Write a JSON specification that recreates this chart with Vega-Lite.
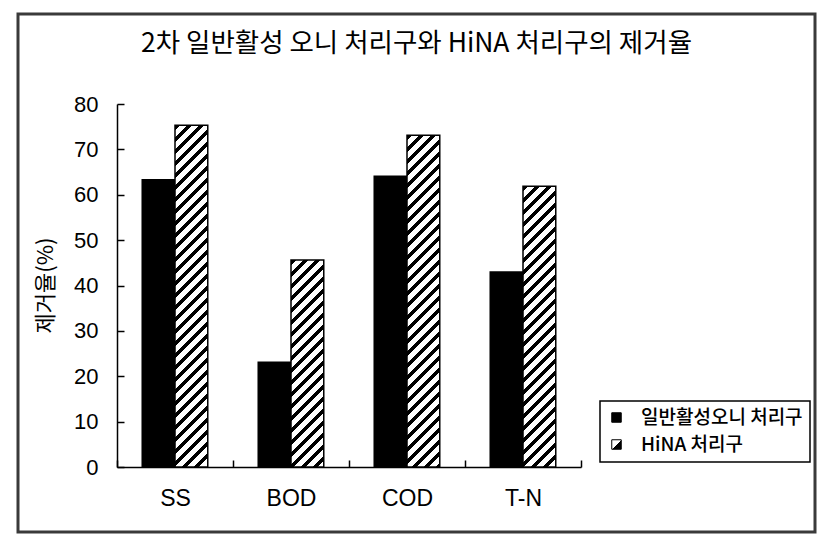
{
  "$schema": "https://vega.github.io/schema/vega-lite/v6.json",
  "width": 797,
  "height": 518,
  "autosize": {"type": "none"},
  "padding": {"left": 18, "top": 14, "right": 16, "bottom": 13},
  "background": "white",
  "config": {"view": {"fill": "white", "stroke": "#3a3a3a", "strokeWidth": 3}},
  "title": {
    "text": "2차 일반활성 오니 처리구와 HiNA 처리구의 제거율",
    "anchor": "middle",
    "frame": "group",
    "offset": -56,
    "baseline": "middle",
    "font": "Noto Sans CJK KR",
    "fontSize": 26.5,
    "fontWeight": "normal",
    "color": "black"
  },
  "data": {
    "values": [
      {"item": "SS", "treat": "일반활성오니 처리구", "value": 63.3},
      {"item": "SS", "treat": "HiNA 처리구", "value": 75.3},
      {"item": "BOD", "treat": "일반활성오니 처리구", "value": 23.1},
      {"item": "BOD", "treat": "HiNA 처리구", "value": 45.6},
      {"item": "COD", "treat": "일반활성오니 처리구", "value": 64.1},
      {"item": "COD", "treat": "HiNA 처리구", "value": 73.1},
      {"item": "T-N", "treat": "일반활성오니 처리구", "value": 43.0},
      {"item": "T-N", "treat": "HiNA 처리구", "value": 61.9}
    ]
  },
  "mark": {"type": "bar", "stroke": "black", "strokeWidth": 1.5},
  "encoding": {
    "x": {
      "field": "item",
      "type": "nominal",
      "sort": ["SS", "BOD", "COD", "T-N"],
      "scale": {"range": [99, 563], "paddingInner": 0, "paddingOuter": 0},
      "axis": {
        "orient": "bottom",
        "offset": -65,
        "title": null,
        "tickBand": "extent",
        "tickSize": -7,
        "tickColor": "black",
        "tickWidth": 1.5,
        "domainColor": "black",
        "domainWidth": 1.5,
        "labelAngle": 0,
        "labelPadding": 27,
        "labelFont": "Liberation Sans",
        "labelFontSize": 23,
        "labelColor": "black"
      }
    },
    "xOffset": {
      "field": "treat",
      "type": "nominal",
      "sort": ["일반활성오니 처리구", "HiNA 처리구"],
      "scale": {"paddingInner": 0, "paddingOuter": 0.77}
    },
    "y": {
      "field": "value",
      "type": "quantitative",
      "scale": {"domain": [0, 80], "range": [453, 90], "nice": false},
      "axis": {
        "orient": "left",
        "offset": -99,
        "values": [0, 10, 20, 30, 40, 50, 60, 70, 80],
        "grid": false,
        "tickSize": -7,
        "tickColor": "black",
        "tickWidth": 1.5,
        "domainColor": "black",
        "domainWidth": 1.5,
        "labelPadding": 26,
        "labelFont": "Liberation Sans",
        "labelFontSize": 22,
        "labelColor": "black",
        "title": "제거율(%)",
        "titleFont": "Noto Sans CJK KR",
        "titleFontSize": 22,
        "titleFontWeight": "normal",
        "titleColor": "black",
        "titleAngle": -90,
        "titleAlign": "center",
        "titleBaseline": "middle",
        "titleX": -72,
        "titleY": 271
      }
    },
    "fill": {
      "field": "treat",
      "type": "nominal",
      "scale": {"domain": ["일반활성오니 처리구", "HiNA 처리구"], "range": ["black", {"expr": "{gradient: 'linear', x1: 0, y1: 0, x2: 1, y2: 1, stops: [{offset: 0, color: '#fff'}, {offset: 0.5, color: '#fff'}, {offset: 0.5, color: '#000'}, {offset: 1, color: '#000'}]}"}]},
      "legend": {
        "orient": "none",
        "legendX": 582,
        "legendY": 387,
        "title": null,
        "direction": "vertical",
        "fillColor": "white",
        "strokeColor": "black",
        "padding": 7,
        "symbolType": "square",
        "symbolSize": 90,
        "symbolStrokeColor": "black",
        "symbolStrokeWidth": 1,
        "labelFont": "Noto Sans CJK KR",
        "labelFontSize": 19,
        "labelFontWeight": 500,
        "labelColor": "black",
        "labelLimit": 400,
        "labelOffset": 15,
        "rowPadding": 7,
        "encode": {
          "legend": {"update": {"strokeWidth": {"value": 1.5}}}
        }
      },
      "condition": [
        {"test": "datum.treat === 'HiNA 처리구' && datum.item === 'SS'", "value": {"gradient": "linear", "x1": 0, "y1": 0, "x2": 0.1036, "y2": 1.0787, "stops": [{"offset":0,"color":"#000"},{"offset":0.0145,"color":"#000"},{"offset":0.0145,"color":"#fff"},{"offset":0.0323,"color":"#fff"},{"offset":0.0323,"color":"#000"},{"offset":0.0468,"color":"#000"},{"offset":0.0468,"color":"#fff"},{"offset":0.0645,"color":"#fff"},{"offset":0.0645,"color":"#000"},{"offset":0.079,"color":"#000"},{"offset":0.079,"color":"#fff"},{"offset":0.0968,"color":"#fff"},{"offset":0.0968,"color":"#000"},{"offset":0.1113,"color":"#000"},{"offset":0.1113,"color":"#fff"},{"offset":0.129,"color":"#fff"},{"offset":0.129,"color":"#000"},{"offset":0.1435,"color":"#000"},{"offset":0.1435,"color":"#fff"},{"offset":0.1613,"color":"#fff"},{"offset":0.1613,"color":"#000"},{"offset":0.1758,"color":"#000"},{"offset":0.1758,"color":"#fff"},{"offset":0.1935,"color":"#fff"},{"offset":0.1935,"color":"#000"},{"offset":0.2081,"color":"#000"},{"offset":0.2081,"color":"#fff"},{"offset":0.2258,"color":"#fff"},{"offset":0.2258,"color":"#000"},{"offset":0.2403,"color":"#000"},{"offset":0.2403,"color":"#fff"},{"offset":0.2581,"color":"#fff"},{"offset":0.2581,"color":"#000"},{"offset":0.2726,"color":"#000"},{"offset":0.2726,"color":"#fff"},{"offset":0.2903,"color":"#fff"},{"offset":0.2903,"color":"#000"},{"offset":0.3048,"color":"#000"},{"offset":0.3048,"color":"#fff"},{"offset":0.3226,"color":"#fff"},{"offset":0.3226,"color":"#000"},{"offset":0.3371,"color":"#000"},{"offset":0.3371,"color":"#fff"},{"offset":0.3548,"color":"#fff"},{"offset":0.3548,"color":"#000"},{"offset":0.3694,"color":"#000"},{"offset":0.3694,"color":"#fff"},{"offset":0.3871,"color":"#fff"},{"offset":0.3871,"color":"#000"},{"offset":0.4016,"color":"#000"},{"offset":0.4016,"color":"#fff"},{"offset":0.4194,"color":"#fff"},{"offset":0.4194,"color":"#000"},{"offset":0.4339,"color":"#000"},{"offset":0.4339,"color":"#fff"},{"offset":0.4516,"color":"#fff"},{"offset":0.4516,"color":"#000"},{"offset":0.4661,"color":"#000"},{"offset":0.4661,"color":"#fff"},{"offset":0.4839,"color":"#fff"},{"offset":0.4839,"color":"#000"},{"offset":0.4984,"color":"#000"},{"offset":0.4984,"color":"#fff"},{"offset":0.5161,"color":"#fff"},{"offset":0.5161,"color":"#000"},{"offset":0.5306,"color":"#000"},{"offset":0.5306,"color":"#fff"},{"offset":0.5484,"color":"#fff"},{"offset":0.5484,"color":"#000"},{"offset":0.5629,"color":"#000"},{"offset":0.5629,"color":"#fff"},{"offset":0.5806,"color":"#fff"},{"offset":0.5806,"color":"#000"},{"offset":0.5952,"color":"#000"},{"offset":0.5952,"color":"#fff"},{"offset":0.6129,"color":"#fff"},{"offset":0.6129,"color":"#000"},{"offset":0.6274,"color":"#000"},{"offset":0.6274,"color":"#fff"},{"offset":0.6452,"color":"#fff"},{"offset":0.6452,"color":"#000"},{"offset":0.6597,"color":"#000"},{"offset":0.6597,"color":"#fff"},{"offset":0.6774,"color":"#fff"},{"offset":0.6774,"color":"#000"},{"offset":0.6919,"color":"#000"},{"offset":0.6919,"color":"#fff"},{"offset":0.7097,"color":"#fff"},{"offset":0.7097,"color":"#000"},{"offset":0.7242,"color":"#000"},{"offset":0.7242,"color":"#fff"},{"offset":0.7419,"color":"#fff"},{"offset":0.7419,"color":"#000"},{"offset":0.7565,"color":"#000"},{"offset":0.7565,"color":"#fff"},{"offset":0.7742,"color":"#fff"},{"offset":0.7742,"color":"#000"},{"offset":0.7887,"color":"#000"},{"offset":0.7887,"color":"#fff"},{"offset":0.8065,"color":"#fff"},{"offset":0.8065,"color":"#000"},{"offset":0.821,"color":"#000"},{"offset":0.821,"color":"#fff"},{"offset":0.8387,"color":"#fff"},{"offset":0.8387,"color":"#000"},{"offset":0.8532,"color":"#000"},{"offset":0.8532,"color":"#fff"},{"offset":0.871,"color":"#fff"},{"offset":0.871,"color":"#000"},{"offset":0.8855,"color":"#000"},{"offset":0.8855,"color":"#fff"},{"offset":0.9032,"color":"#fff"},{"offset":0.9032,"color":"#000"},{"offset":0.9177,"color":"#000"},{"offset":0.9177,"color":"#fff"},{"offset":0.9355,"color":"#fff"},{"offset":0.9355,"color":"#000"},{"offset":0.95,"color":"#000"},{"offset":0.95,"color":"#fff"},{"offset":0.9677,"color":"#fff"},{"offset":0.9677,"color":"#000"},{"offset":0.9823,"color":"#000"},{"offset":0.9823,"color":"#fff"},{"offset":1,"color":"#fff"}]}},
        {"test": "datum.treat === 'HiNA 처리구' && datum.item === 'BOD'", "value": {"gradient": "linear", "x1": 0, "y1": 0, "x2": 0.278, "y2": 1.7539, "stops": [{"offset":0,"color":"#000"},{"offset":0.0145,"color":"#000"},{"offset":0.0145,"color":"#fff"},{"offset":0.0323,"color":"#fff"},{"offset":0.0323,"color":"#000"},{"offset":0.0468,"color":"#000"},{"offset":0.0468,"color":"#fff"},{"offset":0.0645,"color":"#fff"},{"offset":0.0645,"color":"#000"},{"offset":0.079,"color":"#000"},{"offset":0.079,"color":"#fff"},{"offset":0.0968,"color":"#fff"},{"offset":0.0968,"color":"#000"},{"offset":0.1113,"color":"#000"},{"offset":0.1113,"color":"#fff"},{"offset":0.129,"color":"#fff"},{"offset":0.129,"color":"#000"},{"offset":0.1435,"color":"#000"},{"offset":0.1435,"color":"#fff"},{"offset":0.1613,"color":"#fff"},{"offset":0.1613,"color":"#000"},{"offset":0.1758,"color":"#000"},{"offset":0.1758,"color":"#fff"},{"offset":0.1935,"color":"#fff"},{"offset":0.1935,"color":"#000"},{"offset":0.2081,"color":"#000"},{"offset":0.2081,"color":"#fff"},{"offset":0.2258,"color":"#fff"},{"offset":0.2258,"color":"#000"},{"offset":0.2403,"color":"#000"},{"offset":0.2403,"color":"#fff"},{"offset":0.2581,"color":"#fff"},{"offset":0.2581,"color":"#000"},{"offset":0.2726,"color":"#000"},{"offset":0.2726,"color":"#fff"},{"offset":0.2903,"color":"#fff"},{"offset":0.2903,"color":"#000"},{"offset":0.3048,"color":"#000"},{"offset":0.3048,"color":"#fff"},{"offset":0.3226,"color":"#fff"},{"offset":0.3226,"color":"#000"},{"offset":0.3371,"color":"#000"},{"offset":0.3371,"color":"#fff"},{"offset":0.3548,"color":"#fff"},{"offset":0.3548,"color":"#000"},{"offset":0.3694,"color":"#000"},{"offset":0.3694,"color":"#fff"},{"offset":0.3871,"color":"#fff"},{"offset":0.3871,"color":"#000"},{"offset":0.4016,"color":"#000"},{"offset":0.4016,"color":"#fff"},{"offset":0.4194,"color":"#fff"},{"offset":0.4194,"color":"#000"},{"offset":0.4339,"color":"#000"},{"offset":0.4339,"color":"#fff"},{"offset":0.4516,"color":"#fff"},{"offset":0.4516,"color":"#000"},{"offset":0.4661,"color":"#000"},{"offset":0.4661,"color":"#fff"},{"offset":0.4839,"color":"#fff"},{"offset":0.4839,"color":"#000"},{"offset":0.4984,"color":"#000"},{"offset":0.4984,"color":"#fff"},{"offset":0.5161,"color":"#fff"},{"offset":0.5161,"color":"#000"},{"offset":0.5306,"color":"#000"},{"offset":0.5306,"color":"#fff"},{"offset":0.5484,"color":"#fff"},{"offset":0.5484,"color":"#000"},{"offset":0.5629,"color":"#000"},{"offset":0.5629,"color":"#fff"},{"offset":0.5806,"color":"#fff"},{"offset":0.5806,"color":"#000"},{"offset":0.5952,"color":"#000"},{"offset":0.5952,"color":"#fff"},{"offset":0.6129,"color":"#fff"},{"offset":0.6129,"color":"#000"},{"offset":0.6274,"color":"#000"},{"offset":0.6274,"color":"#fff"},{"offset":0.6452,"color":"#fff"},{"offset":0.6452,"color":"#000"},{"offset":0.6597,"color":"#000"},{"offset":0.6597,"color":"#fff"},{"offset":0.6774,"color":"#fff"},{"offset":0.6774,"color":"#000"},{"offset":0.6919,"color":"#000"},{"offset":0.6919,"color":"#fff"},{"offset":0.7097,"color":"#fff"},{"offset":0.7097,"color":"#000"},{"offset":0.7242,"color":"#000"},{"offset":0.7242,"color":"#fff"},{"offset":0.7419,"color":"#fff"},{"offset":0.7419,"color":"#000"},{"offset":0.7565,"color":"#000"},{"offset":0.7565,"color":"#fff"},{"offset":0.7742,"color":"#fff"},{"offset":0.7742,"color":"#000"},{"offset":0.7887,"color":"#000"},{"offset":0.7887,"color":"#fff"},{"offset":0.8065,"color":"#fff"},{"offset":0.8065,"color":"#000"},{"offset":0.821,"color":"#000"},{"offset":0.821,"color":"#fff"},{"offset":0.8387,"color":"#fff"},{"offset":0.8387,"color":"#000"},{"offset":0.8532,"color":"#000"},{"offset":0.8532,"color":"#fff"},{"offset":0.871,"color":"#fff"},{"offset":0.871,"color":"#000"},{"offset":0.8855,"color":"#000"},{"offset":0.8855,"color":"#fff"},{"offset":0.9032,"color":"#fff"},{"offset":0.9032,"color":"#000"},{"offset":0.9177,"color":"#000"},{"offset":0.9177,"color":"#fff"},{"offset":0.9355,"color":"#fff"},{"offset":0.9355,"color":"#000"},{"offset":0.95,"color":"#000"},{"offset":0.95,"color":"#fff"},{"offset":0.9677,"color":"#fff"},{"offset":0.9677,"color":"#000"},{"offset":0.9823,"color":"#000"},{"offset":0.9823,"color":"#fff"},{"offset":1,"color":"#fff"}]}},
        {"test": "datum.treat === 'HiNA 처리구' && datum.item === 'COD'", "value": {"gradient": "linear", "x1": 0, "y1": 0, "x2": 0.1098, "y2": 1.1106, "stops": [{"offset":0,"color":"#000"},{"offset":0.0145,"color":"#000"},{"offset":0.0145,"color":"#fff"},{"offset":0.0323,"color":"#fff"},{"offset":0.0323,"color":"#000"},{"offset":0.0468,"color":"#000"},{"offset":0.0468,"color":"#fff"},{"offset":0.0645,"color":"#fff"},{"offset":0.0645,"color":"#000"},{"offset":0.079,"color":"#000"},{"offset":0.079,"color":"#fff"},{"offset":0.0968,"color":"#fff"},{"offset":0.0968,"color":"#000"},{"offset":0.1113,"color":"#000"},{"offset":0.1113,"color":"#fff"},{"offset":0.129,"color":"#fff"},{"offset":0.129,"color":"#000"},{"offset":0.1435,"color":"#000"},{"offset":0.1435,"color":"#fff"},{"offset":0.1613,"color":"#fff"},{"offset":0.1613,"color":"#000"},{"offset":0.1758,"color":"#000"},{"offset":0.1758,"color":"#fff"},{"offset":0.1935,"color":"#fff"},{"offset":0.1935,"color":"#000"},{"offset":0.2081,"color":"#000"},{"offset":0.2081,"color":"#fff"},{"offset":0.2258,"color":"#fff"},{"offset":0.2258,"color":"#000"},{"offset":0.2403,"color":"#000"},{"offset":0.2403,"color":"#fff"},{"offset":0.2581,"color":"#fff"},{"offset":0.2581,"color":"#000"},{"offset":0.2726,"color":"#000"},{"offset":0.2726,"color":"#fff"},{"offset":0.2903,"color":"#fff"},{"offset":0.2903,"color":"#000"},{"offset":0.3048,"color":"#000"},{"offset":0.3048,"color":"#fff"},{"offset":0.3226,"color":"#fff"},{"offset":0.3226,"color":"#000"},{"offset":0.3371,"color":"#000"},{"offset":0.3371,"color":"#fff"},{"offset":0.3548,"color":"#fff"},{"offset":0.3548,"color":"#000"},{"offset":0.3694,"color":"#000"},{"offset":0.3694,"color":"#fff"},{"offset":0.3871,"color":"#fff"},{"offset":0.3871,"color":"#000"},{"offset":0.4016,"color":"#000"},{"offset":0.4016,"color":"#fff"},{"offset":0.4194,"color":"#fff"},{"offset":0.4194,"color":"#000"},{"offset":0.4339,"color":"#000"},{"offset":0.4339,"color":"#fff"},{"offset":0.4516,"color":"#fff"},{"offset":0.4516,"color":"#000"},{"offset":0.4661,"color":"#000"},{"offset":0.4661,"color":"#fff"},{"offset":0.4839,"color":"#fff"},{"offset":0.4839,"color":"#000"},{"offset":0.4984,"color":"#000"},{"offset":0.4984,"color":"#fff"},{"offset":0.5161,"color":"#fff"},{"offset":0.5161,"color":"#000"},{"offset":0.5306,"color":"#000"},{"offset":0.5306,"color":"#fff"},{"offset":0.5484,"color":"#fff"},{"offset":0.5484,"color":"#000"},{"offset":0.5629,"color":"#000"},{"offset":0.5629,"color":"#fff"},{"offset":0.5806,"color":"#fff"},{"offset":0.5806,"color":"#000"},{"offset":0.5952,"color":"#000"},{"offset":0.5952,"color":"#fff"},{"offset":0.6129,"color":"#fff"},{"offset":0.6129,"color":"#000"},{"offset":0.6274,"color":"#000"},{"offset":0.6274,"color":"#fff"},{"offset":0.6452,"color":"#fff"},{"offset":0.6452,"color":"#000"},{"offset":0.6597,"color":"#000"},{"offset":0.6597,"color":"#fff"},{"offset":0.6774,"color":"#fff"},{"offset":0.6774,"color":"#000"},{"offset":0.6919,"color":"#000"},{"offset":0.6919,"color":"#fff"},{"offset":0.7097,"color":"#fff"},{"offset":0.7097,"color":"#000"},{"offset":0.7242,"color":"#000"},{"offset":0.7242,"color":"#fff"},{"offset":0.7419,"color":"#fff"},{"offset":0.7419,"color":"#000"},{"offset":0.7565,"color":"#000"},{"offset":0.7565,"color":"#fff"},{"offset":0.7742,"color":"#fff"},{"offset":0.7742,"color":"#000"},{"offset":0.7887,"color":"#000"},{"offset":0.7887,"color":"#fff"},{"offset":0.8065,"color":"#fff"},{"offset":0.8065,"color":"#000"},{"offset":0.821,"color":"#000"},{"offset":0.821,"color":"#fff"},{"offset":0.8387,"color":"#fff"},{"offset":0.8387,"color":"#000"},{"offset":0.8532,"color":"#000"},{"offset":0.8532,"color":"#fff"},{"offset":0.871,"color":"#fff"},{"offset":0.871,"color":"#000"},{"offset":0.8855,"color":"#000"},{"offset":0.8855,"color":"#fff"},{"offset":0.9032,"color":"#fff"},{"offset":0.9032,"color":"#000"},{"offset":0.9177,"color":"#000"},{"offset":0.9177,"color":"#fff"},{"offset":0.9355,"color":"#fff"},{"offset":0.9355,"color":"#000"},{"offset":0.95,"color":"#000"},{"offset":0.95,"color":"#fff"},{"offset":0.9677,"color":"#fff"},{"offset":0.9677,"color":"#000"},{"offset":0.9823,"color":"#000"},{"offset":0.9823,"color":"#fff"},{"offset":1,"color":"#fff"}]}},
        {"test": "datum.treat === 'HiNA 처리구' && datum.item === 'T-N'", "value": {"gradient": "linear", "x1": 0, "y1": 0, "x2": 0.1526, "y2": 1.3065, "stops": [{"offset":0,"color":"#000"},{"offset":0.0145,"color":"#000"},{"offset":0.0145,"color":"#fff"},{"offset":0.0323,"color":"#fff"},{"offset":0.0323,"color":"#000"},{"offset":0.0468,"color":"#000"},{"offset":0.0468,"color":"#fff"},{"offset":0.0645,"color":"#fff"},{"offset":0.0645,"color":"#000"},{"offset":0.079,"color":"#000"},{"offset":0.079,"color":"#fff"},{"offset":0.0968,"color":"#fff"},{"offset":0.0968,"color":"#000"},{"offset":0.1113,"color":"#000"},{"offset":0.1113,"color":"#fff"},{"offset":0.129,"color":"#fff"},{"offset":0.129,"color":"#000"},{"offset":0.1435,"color":"#000"},{"offset":0.1435,"color":"#fff"},{"offset":0.1613,"color":"#fff"},{"offset":0.1613,"color":"#000"},{"offset":0.1758,"color":"#000"},{"offset":0.1758,"color":"#fff"},{"offset":0.1935,"color":"#fff"},{"offset":0.1935,"color":"#000"},{"offset":0.2081,"color":"#000"},{"offset":0.2081,"color":"#fff"},{"offset":0.2258,"color":"#fff"},{"offset":0.2258,"color":"#000"},{"offset":0.2403,"color":"#000"},{"offset":0.2403,"color":"#fff"},{"offset":0.2581,"color":"#fff"},{"offset":0.2581,"color":"#000"},{"offset":0.2726,"color":"#000"},{"offset":0.2726,"color":"#fff"},{"offset":0.2903,"color":"#fff"},{"offset":0.2903,"color":"#000"},{"offset":0.3048,"color":"#000"},{"offset":0.3048,"color":"#fff"},{"offset":0.3226,"color":"#fff"},{"offset":0.3226,"color":"#000"},{"offset":0.3371,"color":"#000"},{"offset":0.3371,"color":"#fff"},{"offset":0.3548,"color":"#fff"},{"offset":0.3548,"color":"#000"},{"offset":0.3694,"color":"#000"},{"offset":0.3694,"color":"#fff"},{"offset":0.3871,"color":"#fff"},{"offset":0.3871,"color":"#000"},{"offset":0.4016,"color":"#000"},{"offset":0.4016,"color":"#fff"},{"offset":0.4194,"color":"#fff"},{"offset":0.4194,"color":"#000"},{"offset":0.4339,"color":"#000"},{"offset":0.4339,"color":"#fff"},{"offset":0.4516,"color":"#fff"},{"offset":0.4516,"color":"#000"},{"offset":0.4661,"color":"#000"},{"offset":0.4661,"color":"#fff"},{"offset":0.4839,"color":"#fff"},{"offset":0.4839,"color":"#000"},{"offset":0.4984,"color":"#000"},{"offset":0.4984,"color":"#fff"},{"offset":0.5161,"color":"#fff"},{"offset":0.5161,"color":"#000"},{"offset":0.5306,"color":"#000"},{"offset":0.5306,"color":"#fff"},{"offset":0.5484,"color":"#fff"},{"offset":0.5484,"color":"#000"},{"offset":0.5629,"color":"#000"},{"offset":0.5629,"color":"#fff"},{"offset":0.5806,"color":"#fff"},{"offset":0.5806,"color":"#000"},{"offset":0.5952,"color":"#000"},{"offset":0.5952,"color":"#fff"},{"offset":0.6129,"color":"#fff"},{"offset":0.6129,"color":"#000"},{"offset":0.6274,"color":"#000"},{"offset":0.6274,"color":"#fff"},{"offset":0.6452,"color":"#fff"},{"offset":0.6452,"color":"#000"},{"offset":0.6597,"color":"#000"},{"offset":0.6597,"color":"#fff"},{"offset":0.6774,"color":"#fff"},{"offset":0.6774,"color":"#000"},{"offset":0.6919,"color":"#000"},{"offset":0.6919,"color":"#fff"},{"offset":0.7097,"color":"#fff"},{"offset":0.7097,"color":"#000"},{"offset":0.7242,"color":"#000"},{"offset":0.7242,"color":"#fff"},{"offset":0.7419,"color":"#fff"},{"offset":0.7419,"color":"#000"},{"offset":0.7565,"color":"#000"},{"offset":0.7565,"color":"#fff"},{"offset":0.7742,"color":"#fff"},{"offset":0.7742,"color":"#000"},{"offset":0.7887,"color":"#000"},{"offset":0.7887,"color":"#fff"},{"offset":0.8065,"color":"#fff"},{"offset":0.8065,"color":"#000"},{"offset":0.821,"color":"#000"},{"offset":0.821,"color":"#fff"},{"offset":0.8387,"color":"#fff"},{"offset":0.8387,"color":"#000"},{"offset":0.8532,"color":"#000"},{"offset":0.8532,"color":"#fff"},{"offset":0.871,"color":"#fff"},{"offset":0.871,"color":"#000"},{"offset":0.8855,"color":"#000"},{"offset":0.8855,"color":"#fff"},{"offset":0.9032,"color":"#fff"},{"offset":0.9032,"color":"#000"},{"offset":0.9177,"color":"#000"},{"offset":0.9177,"color":"#fff"},{"offset":0.9355,"color":"#fff"},{"offset":0.9355,"color":"#000"},{"offset":0.95,"color":"#000"},{"offset":0.95,"color":"#fff"},{"offset":0.9677,"color":"#fff"},{"offset":0.9677,"color":"#000"},{"offset":0.9823,"color":"#000"},{"offset":0.9823,"color":"#fff"},{"offset":1,"color":"#fff"}]}}
      ]
    }
  }
}
